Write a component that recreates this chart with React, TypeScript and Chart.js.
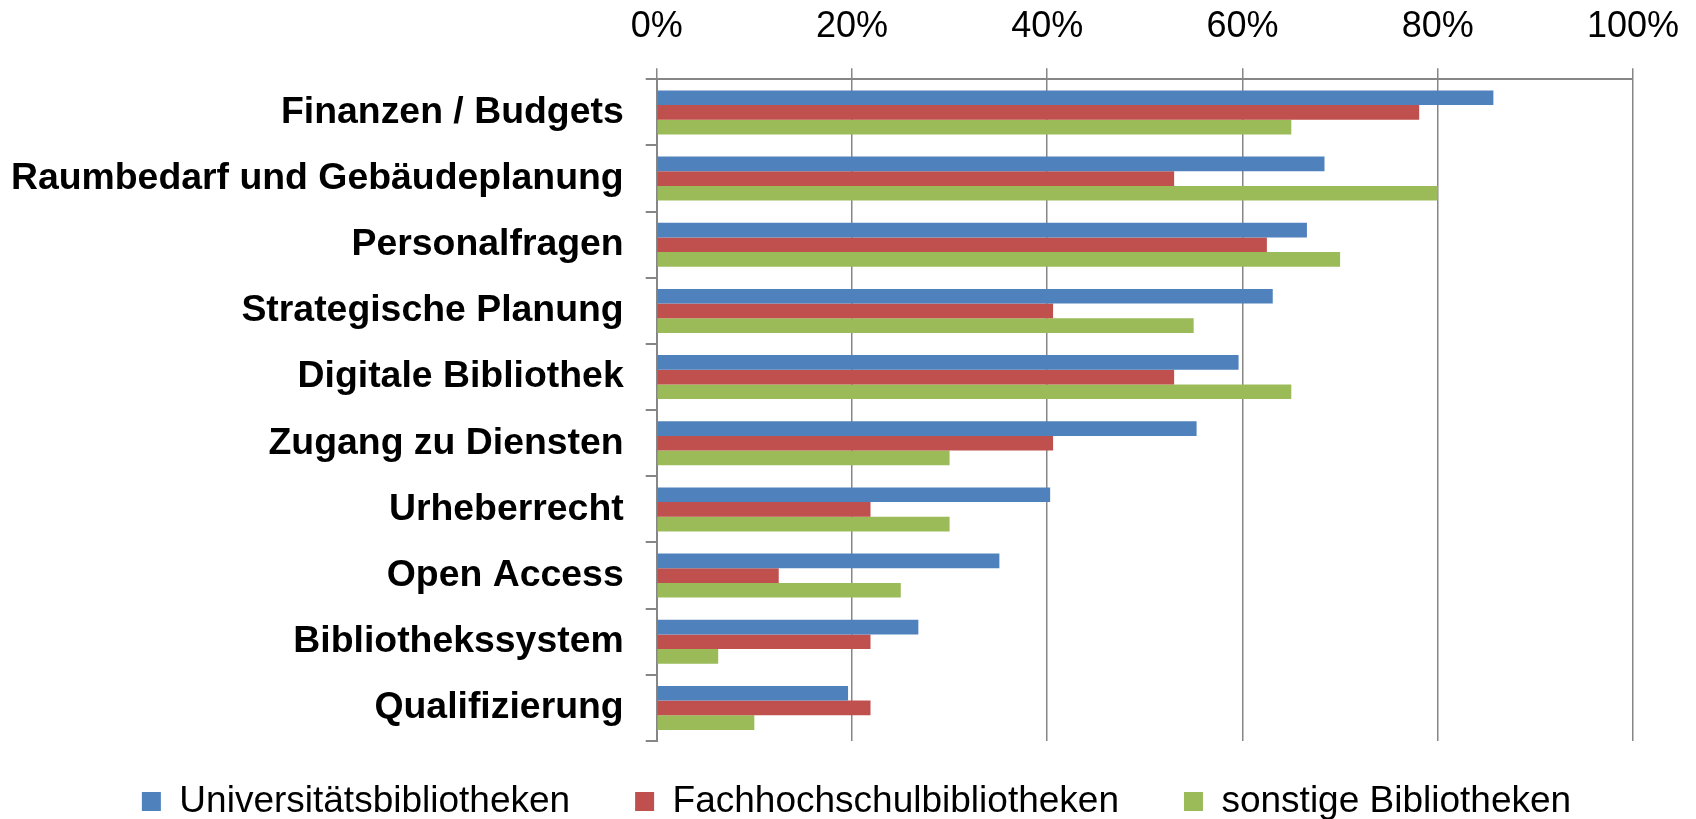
import React, { useEffect, useRef } from "react";
import { Chart, registerables } from "chart.js";

Chart.register(...registerables);

const categories = [
  "Finanzen / Budgets",
  "Raumbedarf und Gebäudeplanung",
  "Personalfragen",
  "Strategische Planung",
  "Digitale Bibliothek",
  "Zugang zu Diensten",
  "Urheberrecht",
  "Open Access",
  "Bibliothekssystem",
  "Qualifizierung",
];

const seriesNames = ["Universitätsbibliotheken", "Fachhochschulbibliotheken", "sonstige Bibliotheken"];

const universitaet = [85.7, 68.4, 66.6, 63.1, 59.6, 55.3, 40.3, 35.1, 26.8, 19.6];
const fachhochschule = [78.1, 53.0, 62.5, 40.6, 53.0, 40.6, 21.9, 12.5, 21.9, 21.9];
const sonstige = [65.0, 80.0, 70.0, 55.0, 65.0, 30.0, 30.0, 25.0, 6.3, 10.0];

const colors = ["#4F81BD", "#C0504D", "#9BBB59"];
const FONT = "'Liberation Sans', Arial, sans-serif";
const GRID = "#868686";

export default function App() {
  const ref = useRef<HTMLCanvasElement | null>(null);

  useEffect(() => {
    if (!ref.current) return;
    const values = [universitaet, fachhochschule, sonstige];
    const chart = new Chart(ref.current, {
      type: "bar",
      data: {
        labels: categories,
        datasets: seriesNames.map((name, i) => ({
          label: name,
          data: values[i],
          backgroundColor: colors[i],
          borderWidth: 0,
          barPercentage: 1.0,
          categoryPercentage: 0.665,
        })),
      },
      options: {
        indexAxis: "y",
        animation: false,
        responsive: true,
        maintainAspectRatio: false,
        layout: { padding: { left: 0, right: -17, top: 0, bottom: 0 } },
        scales: {
          x: {
            position: "top",
            min: 0,
            max: 100,
            ticks: {
              stepSize: 20,
              padding: 20,
              color: "#000",
              font: { family: FONT, size: 36 },
              callback: (v: any) => v + "%",
            },
            grid: {
              color: GRID,
              lineWidth: 1.5,
              tickLength: 11,
              drawTicks: true,
            },
            border: { display: true, color: GRID, width: 2 },
            afterFit: (s: any) => {
              s.height = 79.3;
              s.paddingLeft = 0;
              s.paddingRight = 63;
            },
          },
          y: {
            ticks: {
              padding: 22,
              color: "#000",
              font: { family: FONT, size: 37.4, weight: "bold" },
            },
            grid: {
              drawOnChartArea: false,
              color: GRID,
              lineWidth: 2,
              tickLength: 11,
              offset: true,
            },
            border: { display: true, color: GRID, width: 2 },
            afterFit: (s: any) => {
              s.width = 656.7;
            },
          },
        },
        plugins: {
          legend: {
            position: "bottom",
            maxHeight: 78,
            title: {
              display: true,
              text: "",
              color: "rgba(0,0,0,0)",
              font: { family: FONT, size: 10, lineHeight: 1 },
              padding: { top: -33, bottom: 0 },
            },
            labels: {
              boxWidth: 19,
              boxHeight: 19,
              padding: 65,
              color: "#000",
              font: { family: FONT, size: 37 },
            },
          },
          tooltip: { enabled: false },
        },
      },
    });
    return () => chart.destroy();
  }, []);

  return (
    <div style={{ position: "fixed", left: 0, top: 0, width: 1696, height: 819, background: "#fff" }}>
      <canvas ref={ref} />
    </div>
  );
}
